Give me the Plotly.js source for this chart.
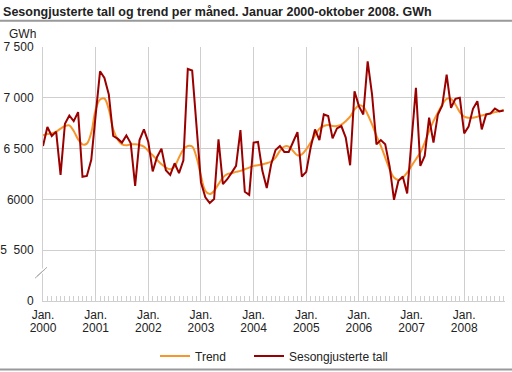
<!DOCTYPE html>
<html>
<head>
<meta charset="utf-8">
<script src="https://cdn.plot.ly/plotly-3.0.1.min.js"></script>
<style>html,body{margin:0;padding:0;background:#fff;}#chart{width:512px;height:372px;}</style>
</head>
<body>
<div id="chart"></div>
<script>
// Month index 0 = Jan 2000 ... 105 = Oct 2008
var yearLabels = ["2000","2001","2002","2003","2004","2005","2006","2007","2008"];
var monthCount = 106;

var trend = [
  6630,6643,6650,6667,6696,6722,6728,6673,6591,6542,6549,6657,
  6885,6983,6993,6885,6689,6591,6542,6532,6542,6542,6536,6520,
  6477,6434,6389,6346,6313,6297,6324,6412,6493,6526,6520,6412,
  6231,6084,6052,6084,6150,6215,6248,6258,6271,6281,6297,6313,
  6330,6336,6346,6356,6373,6412,6477,6520,6520,6477,6434,6444,
  6493,6559,6630,6696,6722,6732,6722,6722,6735,6770,6814,6885,
  6925,6912,6836,6738,6624,6526,6412,6297,6215,6192,6215,6264,
  6330,6395,6461,6559,6673,6771,6853,6934,6990,6990,6934,6859,
  6814,6804,6804,6814,6826,6836,6846,6859,6869,6879
];

var sesong = [
  6526,6712,6624,6667,6241,6745,6826,6771,6859,6222,6231,6390,
  6830,7261,7196,7032,6624,6598,6559,6630,6552,6134,6584,6689,
  6565,6275,6418,6500,6287,6241,6356,6258,6385,7284,7268,6722,
  6167,6020,5964,6003,6591,6150,6199,6264,6330,6683,6075,6045,
  6559,6565,6281,6111,6346,6486,6526,6467,6467,6565,6663,6225,
  6271,6510,6689,6584,6836,6820,6601,6699,6722,6608,6336,7065,
  6918,6836,7359,7032,6542,6584,6542,6324,5996,6182,6225,6059,
  6559,7098,6330,6428,6804,6559,6836,6925,7228,6902,6990,7000,
  6650,6716,6892,6967,6689,6836,6846,6895,6866,6875
];

var yTickVals = [5000,5500,6000,6500,7000,7500];
var yTickText = ["0","5\u00a0 500","6000","6 500","7 000","7 500"];

var months = [];
for (var i = 0; i < monthCount; i++) months.push(i);
var xTickVals = yearLabels.map(function(_, k){ return k*12; });
var monthText = yearLabels.map(function(){ return "Jan."; });

var font = "Liberation Sans, Arial, sans-serif";

var data = [
  {x: months, y: trend, type: "scatter", mode: "lines", name: "Trend", xaxis: "x", yaxis: "y", legend: "legend",
   line: {color: "#f7962b", width: 2, shape: "spline", smoothing: 1}},
  {x: months, y: sesong, type: "scatter", mode: "lines", name: "Sesongjusterte tall", xaxis: "x2", yaxis: "y", legend: "legend2",
   line: {color: "#9a0000", width: 2}}
];

var W = 462, H = 253.4;
var legendBase = {orientation: "h", xref: "container", yref: "container",
    xanchor: "left", y: 1 - 356/372, yanchor: "middle",
    font: {family: font, size: 12, color: "#222"}, bgcolor: "rgba(0,0,0,0)"};
var layout = {
  width: 512, height: 372,
  margin: {l: 43, r: 7, t: 47.3, b: 71.3, pad: 0, autoexpand: false},
  paper_bgcolor: "#fff", plot_bgcolor: "#fff",
  font: {family: font, size: 12, color: "#222"},
  title: {text: "Sesongjusterte tall og trend per måned. Januar 2000-oktober 2008. GWh",
    font: {family: font, size: 12.5, weight: "bold", color: "#222"},
    xref: "container", yref: "container", x: 0.006, xanchor: "left", y: 1 - 12/372, yanchor: "middle"},
  showlegend: true,
  legend: Object.assign({}, legendBase, {x: 155/512}),
  legend2: Object.assign({}, legendBase, {x: 249/512}),
  xaxis: {range: [0, 105.3], tickmode: "array", tickvals: xTickVals, ticktext: monthText,
    showgrid: true, gridcolor: "#cfcfcf", gridwidth: 1, zeroline: false,
    showline: true, linecolor: "#cfcfcf", linewidth: 1,
    ticks: "inside", ticklen: 5, tickcolor: "#cfcfcf", ticklabelstandoff: 3,
    minor: {tickmode: "linear", tick0: 0, dtick: 1, ticks: "inside", ticklen: 5, tickcolor: "#cfcfcf", showgrid: false},
    tickfont: {family: font, size: 12, color: "#222"}, fixedrange: true},
  xaxis2: {matches: "x", overlaying: "x", anchor: "y", side: "bottom",
    tickmode: "array", tickvals: xTickVals, ticktext: yearLabels,
    showgrid: false, zeroline: false, showline: false, ticks: "", ticklabelstandoff: 18,
    tickfont: {family: font, size: 12, color: "#222"}, fixedrange: true},
  yaxis: {range: [5000, 7500], tickmode: "array", tickvals: yTickVals, ticktext: yTickText,
    showgrid: true, gridcolor: "#cfcfcf", gridwidth: 1, zeroline: false,
    showline: true, linecolor: "#cfcfcf", linewidth: 1, ticks: "", ticklabelstandoff: 6,
    tickfont: {family: font, size: 12, color: "#222"}, fixedrange: true},
  shapes: [
    {type: "line", xref: "paper", yref: "paper", x0: -43/W, x1: 1 + 7/W, y0: (300.7-21)/H, y1: (300.7-21)/H,
     line: {color: "#999", width: 2}},
    {type: "line", xref: "paper", yref: "paper", x0: -43/W, x1: 1 + 7/W, y0: (300.7-369)/H, y1: (300.7-369)/H,
     line: {color: "#999", width: 2}},
    {type: "line", xref: "paper", yref: "paper", x0: -7/W, x1: 3/W, y0: (300.7-276)/H, y1: (300.7-268)/H,
     line: {color: "#fff", width: 4}},
    {type: "line", xref: "paper", yref: "paper", x0: -8/W, x1: 2/W, y0: (300.7-278)/H, y1: (300.7-269)/H,
     line: {color: "#aaa", width: 1}},
    {type: "line", xref: "paper", yref: "paper", x0: -6/W, x1: 4/W, y0: (300.7-276)/H, y1: (300.7-267)/H,
     line: {color: "#aaa", width: 1}}
  ],
  annotations: [
    {text: "GWh", xref: "paper", yref: "paper", x: (7-43)/W, xanchor: "left", y: (300.7-34)/H, yanchor: "middle",
     showarrow: false, font: {family: font, size: 12, color: "#222"}}
  ]
};

Plotly.newPlot("chart", data, layout, {displayModeBar: false, staticPlot: true});
</script>
</body>
</html>
